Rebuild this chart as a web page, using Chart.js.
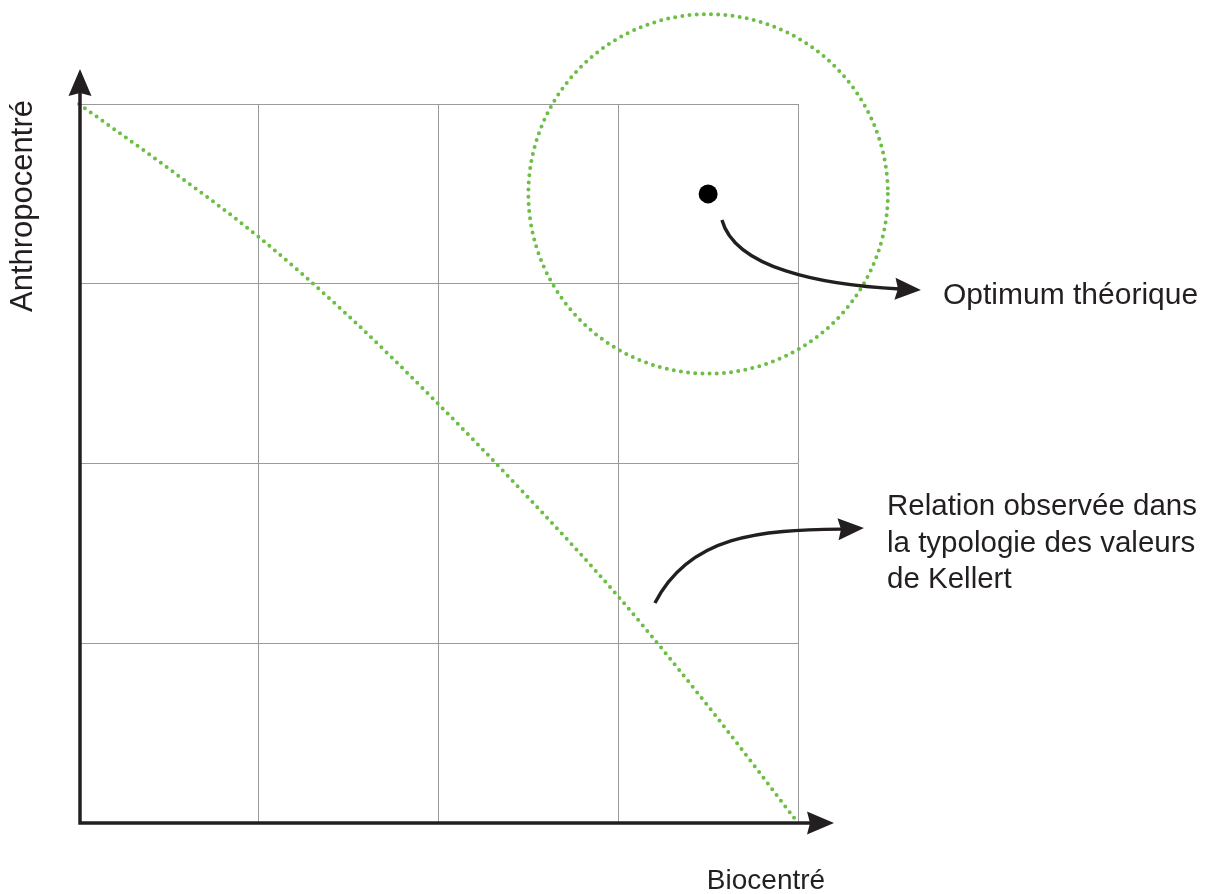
<!DOCTYPE html>
<html><head><meta charset="utf-8">
<script src="https://cdn.jsdelivr.net/npm/chart.js@4.4.1/dist/chart.umd.min.js"></script>
<style>html,body{margin:0;padding:0;background:#fff;} #wrap{width:1213px;height:894px;position:relative;}</style>
</head><body><div id="wrap"><canvas id="c"></canvas></div>
<script>
// ---- data ----
const axisTicks = [0, 1, 2, 3, 4];
const relationX = [0, 0.5, 1, 1.5, 2, 2.5, 3, 3.5, 4];
const relationY = [4, 3.64, 3.26, 2.82, 2.33, 1.81, 1.26, 0.65, 0];
const optimumPoint = [3.5, 3.5];
const optimumZoneRadius = [1];
const xAxisTitle = 'Biocentré';
const yAxisTitle = 'Anthropocentré';
const optimumLabel = ['Optimum théorique'];
const relationLabel = ['Relation observée dans', 'la typologie des valeurs', 'de Kellert'];
// annotation arrows (data units): start, control1, control2, end, tip
const optimumArrow = [[3.577, 3.355], [3.650, 3.088], [4.122, 2.993], [4.567, 2.971], [4.684, 2.965]];
const relationArrow = [[3.204, 1.224], [3.399, 1.602], [3.789, 1.630], [4.245, 1.635], [4.367, 1.641]];

const GREEN = '#6cbe45';
const INK = '#231f20';
const FONT = '"Liberation Sans", Arial, Helvetica, sans-serif';

function arrowHead(ctx, tx, ty, ang, len, half, notch) {
  ctx.save();
  ctx.translate(tx, ty);
  ctx.rotate(ang);
  ctx.beginPath();
  ctx.moveTo(0, 0);
  ctx.lineTo(-len, -half);
  ctx.lineTo(-len + notch, 0);
  ctx.lineTo(-len, half);
  ctx.closePath();
  ctx.fillStyle = INK;
  ctx.fill();
  ctx.restore();
}

const decor = {
  id: 'decor',
  beforeDatasetsDraw(chart) {
    const {ctx, scales: {x, y}} = chart;
    const cx = x.getPixelForValue(optimumPoint[0]);
    const cy = y.getPixelForValue(optimumPoint[1]);
    const r = x.getPixelForValue(optimumPoint[0] + optimumZoneRadius[0]) - cx;
    ctx.save();
    ctx.strokeStyle = GREEN;
    ctx.lineWidth = 4;
    ctx.lineCap = 'round';
    ctx.setLineDash([0, 7.2]);
    ctx.beginPath();
    ctx.arc(cx, cy, r, 0, Math.PI * 2);
    ctx.stroke();
    ctx.restore();
  },
  afterDatasetsDraw(chart) {
    const {ctx, chartArea: a, scales: {x, y}} = chart;
    ctx.save();
    ctx.strokeStyle = INK;
    ctx.lineWidth = 3.5;
    ctx.lineCap = 'butt';
    const ax = a.left + 1, ay = a.bottom;
    ctx.beginPath();
    ctx.moveTo(ax, ay + 1.7);
    ctx.lineTo(ax, a.top - 20);
    ctx.moveTo(ax - 1.7, ay);
    ctx.lineTo(a.right + 18, ay);
    ctx.stroke();
    arrowHead(ctx, ax, a.top - 35, -Math.PI / 2, 27, 11.5, 3);
    arrowHead(ctx, a.right + 36, ay, 0, 27, 11.5, 3);

    function curved(pts) {
      const p = pts.map(q => [x.getPixelForValue(q[0]), y.getPixelForValue(q[1])]);
      ctx.strokeStyle = INK;
      ctx.lineWidth = 3.4;
      ctx.lineCap = 'butt';
      ctx.beginPath();
      ctx.moveTo(p[0][0], p[0][1]);
      ctx.bezierCurveTo(p[1][0], p[1][1], p[2][0], p[2][1], p[3][0], p[3][1]);
      ctx.stroke();
      const ang = Math.atan2(p[4][1] - p[3][1], p[4][0] - p[3][0]);
      arrowHead(ctx, p[4][0], p[4][1], ang, 26, 11, 3);
    }
    curved(optimumArrow);
    curved(relationArrow);

    ctx.fillStyle = INK;
    ctx.textBaseline = 'alphabetic';
    ctx.textAlign = 'left';
    ctx.font = '30px ' + FONT;
    ctx.fillText(optimumLabel[0], 943, 304);
    ctx.font = '29.5px ' + FONT;
    relationLabel.forEach((t, i) => ctx.fillText(t, 887, 515 + i * 36.5));
    ctx.textAlign = 'center';
    ctx.font = '28px ' + FONT;
    ctx.fillText(xAxisTitle, 766, 889);
    ctx.save();
    ctx.translate(32, 206);
    ctx.rotate(-Math.PI / 2);
    ctx.font = '31px ' + FONT;
    ctx.fillText(yAxisTitle, 0, 0);
    ctx.restore();
    ctx.restore();
  }
};

new Chart(document.getElementById('c'), {
  type: 'scatter',
  data: {
    datasets: [
      {
        data: relationX.map((v, i) => ({x: v, y: relationY[i]})),
        showLine: true,
        borderColor: GREEN,
        borderWidth: 4,
        borderDash: [0, 7.2],
        borderCapStyle: 'round',
        cubicInterpolationMode: 'monotone',
        pointRadius: 0,
        clip: false
      },
      {
        data: [{x: optimumPoint[0], y: optimumPoint[1]}],
        pointRadius: 9.5,
        backgroundColor: '#000',
        borderColor: '#000',
        borderWidth: 0,
        clip: false
      }
    ]
  },
  options: {
    responsive: true,
    maintainAspectRatio: false,
    animation: false,
    layout: {padding: {left: 79, right: 415, top: 104, bottom: 71}},
    plugins: {legend: {display: false}, tooltip: {enabled: false}},
    scales: {
      x: {
        type: 'linear', min: 0, max: 4,
        afterBuildTicks: s => { s.ticks = axisTicks.map(v => ({value: v})); },
        ticks: {display: false},
        grid: {color: '#9a9a9a', lineWidth: 1, drawTicks: false},
        border: {display: false}
      },
      y: {
        type: 'linear', min: 0, max: 4,
        afterBuildTicks: s => { s.ticks = axisTicks.map(v => ({value: v})); },
        ticks: {display: false},
        grid: {color: '#9a9a9a', lineWidth: 1, drawTicks: false},
        border: {display: false}
      }
    }
  },
  plugins: [decor]
});
</script>
</body></html>
